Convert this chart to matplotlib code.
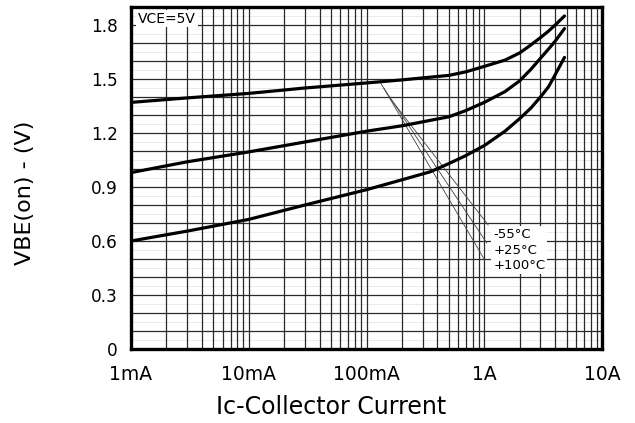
import numpy as np
import matplotlib
matplotlib.use("Agg")
import matplotlib.pyplot as plt
from matplotlib.ticker import FixedLocator, NullFormatter

# values (collector current in A, VBE(on) in V)
ic_m55 = [0.001, 0.003, 0.01, 0.03, 0.1, 0.2, 0.5, 0.7, 1.0, 1.5, 2.0, 2.5, 3.0, 3.5, 4.0, 4.8]
vbe_m55 = [1.37, 1.395, 1.42, 1.45, 1.478, 1.495, 1.52, 1.54, 1.57, 1.605, 1.645, 1.69, 1.73, 1.765, 1.80, 1.85]

ic_p25 = [0.001, 0.003, 0.01, 0.03, 0.1, 0.2, 0.5, 0.7, 1.0, 1.5, 2.0, 2.5, 3.0, 3.5, 4.0, 4.8]
vbe_p25 = [0.98, 1.04, 1.095, 1.15, 1.21, 1.24, 1.29, 1.325, 1.37, 1.43, 1.49, 1.555, 1.615, 1.665, 1.71, 1.78]

ic_p100 = [0.001, 0.003, 0.01, 0.03, 0.1, 0.2, 0.35, 0.5, 0.7, 1.0, 1.5, 2.0, 2.5, 3.0, 3.5, 3.9, 4.8]
vbe_p100 = [0.60, 0.655, 0.72, 0.80, 0.885, 0.94, 0.985, 1.03, 1.075, 1.13, 1.21, 1.28, 1.34, 1.40, 1.455, 1.51, 1.62]

temp_labels = ["-55°C", "+25°C", "+100°C"]
# leader lines: (start current, start V) -> (end current, end V)
lead_ic0 = [0.16, 0.14, 0.13]
lead_v0 = [1.39, 1.45, 1.485]
lead_ic1 = [1.08, 1.05, 1.01]
lead_v1 = [0.689, 0.589, 0.494]

x_ticks = [1e-3, 1e-2, 1e-1, 1, 10]
x_ticklabels = ["1mA", "10mA", "100mA", "1A", "10A"]
y_ticks = [0, 0.3, 0.6, 0.9, 1.2, 1.5, 1.8]
y_ticklabels = ["0", "0.3", "0.6", "0.9", "1.2", "1.5", "1.8"]

plt.rcParams['font.family'] = ['DejaVu Sans']

fig = plt.figure(figsize=(6.35, 4.23), dpi=100)
ax = fig.add_axes([131/635, 1-349/423, 471/635, 342/423])

ax.set_xscale('log')
ax.set_xlim(1e-3, 10)
ax.set_ylim(0, 1.9)

# grid: every log minor line, every 0.1 V, faint lines at 0.05
minor_x = [m * 10.0**d for d in range(-3, 1) for m in range(2, 10)]
for xv in minor_x + x_ticks:
    ax.axvline(xv, color='#2a2a2a', lw=0.9, zorder=1)
for yv in np.arange(0.1, 1.9, 0.1):
    ax.axhline(yv, color='#2a2a2a', lw=0.9, zorder=1)
for yv in np.arange(0.05, 1.9, 0.1):
    ax.axhline(yv, color='#e2e2e2', lw=0.5, zorder=0.5)

for ic, v in [(ic_m55, vbe_m55), (ic_p25, vbe_p25), (ic_p100, vbe_p100)]:
    ax.plot(ic, v, color='black', lw=2.3, zorder=3, solid_capstyle='round',
            solid_joinstyle='round')

for i in range(3):
    ax.plot([lead_ic0[i], lead_ic1[i]], [lead_v0[i], lead_v1[i]],
            color='#444444', lw=0.6, zorder=2)

ax.text(1.19, 0.548, "\n".join(temp_labels), fontsize=9.5, ha='left', va='center',
        linespacing=1.25, zorder=4,
        bbox=dict(boxstyle='square,pad=0.15', fc='white', ec='none'))

ax.text(0.00115, 1.875, "VCE=5V", fontsize=10, ha='left', va='top', zorder=4,
        bbox=dict(boxstyle='square,pad=0.12', fc='white', ec='none'))

ax.xaxis.set_major_locator(FixedLocator(x_ticks))
ax.xaxis.set_minor_locator(FixedLocator(minor_x))
ax.xaxis.set_minor_formatter(NullFormatter())
ax.set_xticklabels(x_ticklabels, fontsize=13.5)
ax.set_yticks(y_ticks)
ax.set_yticklabels(y_ticklabels, fontsize=12.2)
ax.tick_params(axis='both', which='both', length=0)
ax.tick_params(axis='x', pad=11.5)
ax.tick_params(axis='y', pad=9.5)

for s in ax.spines.values():
    s.set_linewidth(2.4)
    s.set_zorder(5)

fig.text(331/635, 1-407/423, "Ic-Collector Current", fontsize=17,
         ha='center', va='center')
fig.text(25/635, 1-193/423, "VBE(on) - (V)", fontsize=16, rotation=90,
         ha='center', va='center')

fig.savefig("out.png", dpi=100)
